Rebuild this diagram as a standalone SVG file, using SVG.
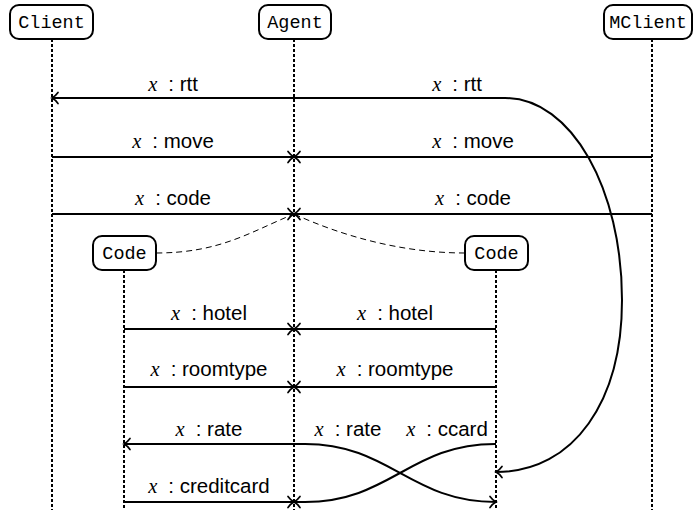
<svg xmlns="http://www.w3.org/2000/svg" width="695" height="514" viewBox="0 0 695 514">
<style>
.box{fill:#fff;stroke:#000;stroke-width:2}
.nt{font-family:"Liberation Mono",monospace;font-size:18.5px;text-anchor:middle}
.life{stroke:#000;stroke-width:2;stroke-dasharray:3 2;fill:none}
.msg{stroke:#000;stroke-width:2;fill:none}
.dash{stroke:#000;stroke-width:1;stroke-dasharray:6 4;fill:none}
.lb{font-family:"Liberation Sans",Arial,sans-serif;font-size:20.5px;text-anchor:middle}
.mx{font-family:"Liberation Serif",serif;font-style:italic}
</style>
<defs>
<marker id="to" viewBox="-8 -8 10 16" refX="0" refY="0" markerWidth="10" markerHeight="16" markerUnits="userSpaceOnUse" orient="auto-start-reverse">
<path d="M -6 -5.5 C -3.5 -2, -1 -0.5, 0 0 C -1 0.5, -3.5 2, -6 5.5" fill="none" stroke="#000" stroke-width="1.7" stroke-linecap="round"/>
</marker>
</defs>
<g id="lifelines">
<line class="life" x1="52" y1="39" x2="52" y2="510"/>
<line class="life" x1="294" y1="39" x2="294" y2="510"/>
<line class="life" x1="652" y1="39" x2="652" y2="510"/>
<line class="life" x1="124" y1="270" x2="124" y2="510"/>
<line class="life" x1="496" y1="270" x2="496" y2="510"/>
</g>
<g id="connectors">
<path class="msg" d="M 52 98 L 505 98 C 572 98, 622 190, 622 300 C 622 400, 575 472, 496 472" marker-start="url(#to)" marker-end="url(#to)"/>
<line class="msg" x1="52" y1="157" x2="294" y2="157" marker-end="url(#to)"/>
<line class="msg" x1="652" y1="157" x2="294" y2="157" marker-end="url(#to)"/>
<line class="msg" x1="52" y1="214" x2="294" y2="214" marker-end="url(#to)"/>
<line class="msg" x1="652" y1="214" x2="294" y2="214" marker-end="url(#to)"/>
<path class="dash" d="M 156 253 C 220 253, 250 232, 294 214"/>
<path class="dash" d="M 465 253 C 400 253, 340 235, 294 214"/>
<line class="msg" x1="124" y1="329" x2="294" y2="329" marker-end="url(#to)"/>
<line class="msg" x1="496" y1="329" x2="294" y2="329" marker-end="url(#to)"/>
<line class="msg" x1="124" y1="387" x2="294" y2="387" marker-end="url(#to)"/>
<line class="msg" x1="496" y1="387" x2="294" y2="387" marker-end="url(#to)"/>
<path class="msg" d="M 124 444 L 305 444 C 390 444, 410 502, 496 502" marker-start="url(#to)" marker-end="url(#to)"/>
<path class="msg" d="M 496 444 L 495 444 C 410 444, 390 502, 305 502 L 294 502" marker-end="url(#to)"/>
<line class="msg" x1="124" y1="502" x2="294" y2="502" marker-end="url(#to)"/>
</g>
<g id="labels">
<text class="lb" x="173" y="91"><tspan class="mx">x</tspan><tspan dx="11">: rtt</tspan></text>
<text class="lb" x="457" y="91"><tspan class="mx">x</tspan><tspan dx="11">: rtt</tspan></text>
<text class="lb" x="173" y="148"><tspan class="mx">x</tspan><tspan dx="11">: move</tspan></text>
<text class="lb" x="473" y="148"><tspan class="mx">x</tspan><tspan dx="11">: move</tspan></text>
<text class="lb" x="173" y="205"><tspan class="mx">x</tspan><tspan dx="11">: code</tspan></text>
<text class="lb" x="473" y="205"><tspan class="mx">x</tspan><tspan dx="11">: code</tspan></text>
<text class="lb" x="209" y="320"><tspan class="mx">x</tspan><tspan dx="11">: hotel</tspan></text>
<text class="lb" x="395" y="320"><tspan class="mx">x</tspan><tspan dx="11">: hotel</tspan></text>
<text class="lb" x="209" y="376"><tspan class="mx">x</tspan><tspan dx="11">: roomtype</tspan></text>
<text class="lb" x="395" y="376"><tspan class="mx">x</tspan><tspan dx="11">: roomtype</tspan></text>
<text class="lb" x="209" y="436"><tspan class="mx">x</tspan><tspan dx="11">: rate</tspan></text>
<text class="lb" x="348" y="436"><tspan class="mx">x</tspan><tspan dx="11">: rate</tspan></text>
<text class="lb" x="447" y="436"><tspan class="mx">x</tspan><tspan dx="11">: ccard</tspan></text>
<text class="lb" x="209" y="493"><tspan class="mx">x</tspan><tspan dx="11">: creditcard</tspan></text>
</g>
<g id="client"><rect class="box" x="10" y="5" width="83" height="34" rx="9"/><text class="nt" x="51.5" y="28">Client</text></g>
<g id="agent"><rect class="box" x="259" y="5" width="72" height="34" rx="9"/><text class="nt" x="295" y="28">Agent</text></g>
<g id="mclient"><rect class="box" x="604" y="5" width="88" height="34" rx="9"/><text class="nt" x="648" y="28">MClient</text></g>
<g id="code-left"><rect class="box" x="93" y="236" width="63" height="34" rx="9"/><text class="nt" x="124.5" y="259">Code</text></g>
<g id="code-right"><rect class="box" x="465" y="236" width="63" height="34" rx="9"/><text class="nt" x="496.5" y="259">Code</text></g>
</svg>
